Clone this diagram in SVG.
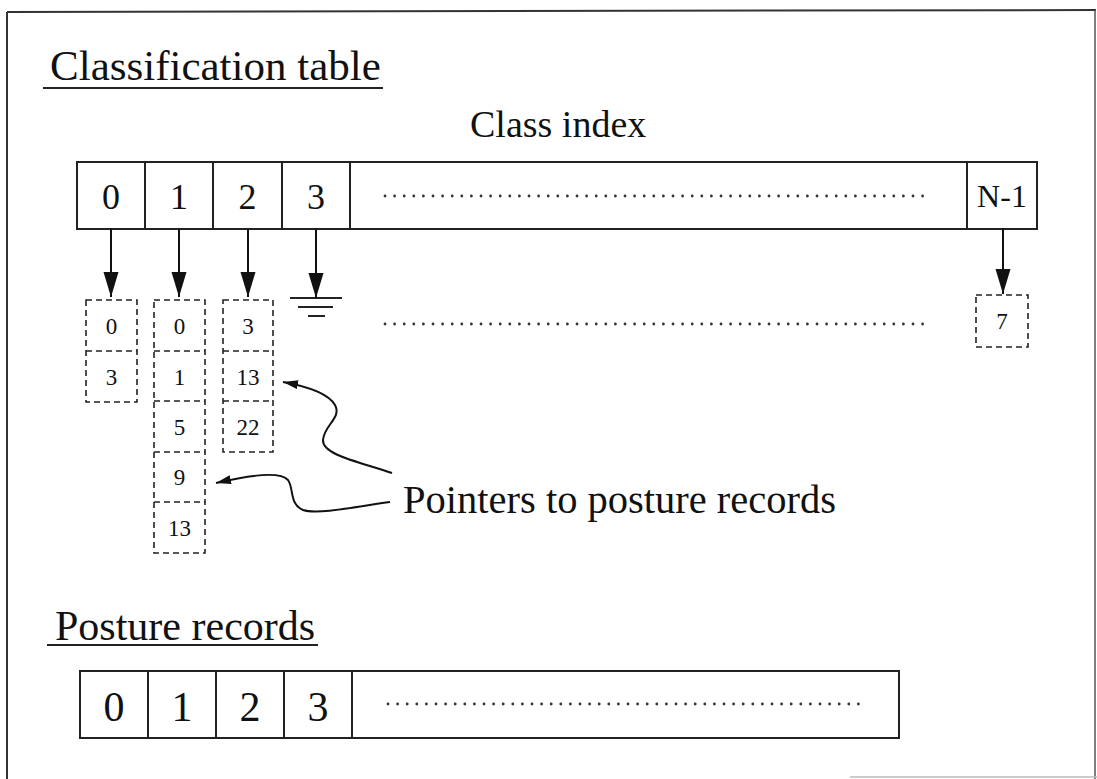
<svg xmlns="http://www.w3.org/2000/svg" width="1097" height="779" viewBox="0 0 1097 779" font-family="'Liberation Serif', 'Times New Roman', serif">
  <style>
    text { font-family: "Liberation Serif", "Times New Roman", serif; fill: #111; }
    .title { font-size: 43px; }
    .label { font-size: 40.5px; }
    .cell { font-size: 36px; text-anchor: middle; }
    .pcell { font-size: 42px; text-anchor: middle; }
    .small { font-size: 23px; text-anchor: middle; }
    .box { fill: none; stroke: #222; stroke-width: 2; }
    .solid { stroke: #222; stroke-width: 2; fill: none; }
    .dash { fill: none; stroke: #222; stroke-width: 1.6; stroke-dasharray: 6 4; }
    .dots { stroke: #333; stroke-width: 2.8; stroke-linecap: round; stroke-dasharray: 0 9.6; fill: none; }
    .conn { stroke: #111; stroke-width: 2; fill: none; }
  </style>
  <defs>
    <marker id="bigHead" markerUnits="userSpaceOnUse" markerWidth="26" markerHeight="16" refX="25" refY="7.5" orient="auto">
      <path d="M0,0 L25,7.5 L0,15 z" fill="#111"/>
    </marker>
    <marker id="smallHead" markerUnits="userSpaceOnUse" markerWidth="16" markerHeight="10" refX="15" refY="4.5" orient="auto">
      <path d="M0,0 L15,4.5 L0,9 z" fill="#111"/>
    </marker>
  </defs>

  <rect width="1097" height="779" fill="#fff"/>

  <!-- page frame -->
  <g id="frame">
    <line x1="7" y1="12" x2="1096" y2="10" stroke="#333" stroke-width="2"/>
    <line x1="7" y1="12" x2="7" y2="779" stroke="#333" stroke-width="2"/>
    <line x1="1095" y1="10" x2="1095" y2="779" stroke="#555" stroke-width="1.5"/>
    <line x1="850" y1="777" x2="1097" y2="777" stroke="#bbb" stroke-width="1.5"/>
  </g>

  <!-- section headings -->
  <g id="heading-classification">
    <text class="title" x="50" y="80">Classification table</text>
    <line class="solid" x1="43" y1="88" x2="383" y2="88"/>
  </g>
  <g id="heading-posture">
    <text class="title" x="55" y="640" style="font-size:42px">Posture records</text>
    <line class="solid" x1="47" y1="645" x2="318" y2="645"/>
  </g>
  <g id="label-class-index">
    <text x="470" y="137" style="font-size:38px">Class index</text>
  </g>

  <!-- class index array -->
  <g id="class-index-table">
    <rect class="box" x="77" y="162" width="960" height="67"/>
    <line class="solid" x1="145" y1="162" x2="145" y2="229"/>
    <line class="solid" x1="213" y1="162" x2="213" y2="229"/>
    <line class="solid" x1="282" y1="162" x2="282" y2="229"/>
    <line class="solid" x1="350" y1="162" x2="350" y2="229"/>
    <line class="solid" x1="967" y1="162" x2="967" y2="229"/>
    <text class="cell" x="111" y="209">0</text>
    <text class="cell" x="179" y="209">1</text>
    <text class="cell" x="247.5" y="209">2</text>
    <text class="cell" x="316" y="209">3</text>
    <text class="cell" x="1002" y="207" style="font-size:32px">N-1</text>
    <line class="dots" x1="385" y1="196" x2="930" y2="196"/>
  </g>

  <!-- bucket lists -->
  <g id="bucket-0">
    <rect class="dash" x="86" y="300" width="51" height="102"/>
    <line class="dash" x1="86" y1="351" x2="137" y2="351"/>
    <text class="small" x="111.5" y="334">0</text>
    <text class="small" x="111.5" y="385">3</text>
  </g>
  <g id="bucket-1">
    <rect class="dash" x="154" y="300" width="51" height="253"/>
    <line class="dash" x1="154" y1="351" x2="205" y2="351"/>
    <line class="dash" x1="154" y1="401" x2="205" y2="401"/>
    <line class="dash" x1="154" y1="452" x2="205" y2="452"/>
    <line class="dash" x1="154" y1="502" x2="205" y2="502"/>
    <text class="small" x="179.5" y="334">0</text>
    <text class="small" x="179.5" y="385">1</text>
    <text class="small" x="179.5" y="435">5</text>
    <text class="small" x="179.5" y="485">9</text>
    <text class="small" x="179.5" y="536">13</text>
  </g>
  <g id="bucket-2">
    <rect class="dash" x="223" y="300" width="50" height="152"/>
    <line class="dash" x1="223" y1="351" x2="273" y2="351"/>
    <line class="dash" x1="223" y1="401" x2="273" y2="401"/>
    <text class="small" x="248" y="334">3</text>
    <text class="small" x="248" y="385">13</text>
    <text class="small" x="248" y="435">22</text>
  </g>
  <g id="bucket-3-null">
    <line class="solid" x1="290" y1="298" x2="342" y2="298"/>
    <line class="solid" x1="298" y1="307" x2="333" y2="307"/>
    <line class="solid" x1="308" y1="316" x2="325" y2="316"/>
  </g>
  <g id="bucket-ellipsis">
    <line class="dots" x1="385" y1="324" x2="930" y2="324"/>
  </g>
  <g id="bucket-last">
    <rect class="dash" x="976" y="295" width="52" height="52"/>
    <text class="small" x="1002" y="329">7</text>
  </g>

  <g id="label-pointers">
    <text class="label" x="403" y="513">Pointers to posture records</text>
  </g>

  <!-- posture record array -->
  <g id="posture-table">
    <rect class="box" x="80" y="671" width="819" height="67"/>
    <line class="solid" x1="148" y1="671" x2="148" y2="738"/>
    <line class="solid" x1="216" y1="671" x2="216" y2="738"/>
    <line class="solid" x1="284" y1="671" x2="284" y2="738"/>
    <line class="solid" x1="352" y1="671" x2="352" y2="738"/>
    <text class="pcell" x="114" y="721">0</text>
    <text class="pcell" x="182" y="721">1</text>
    <text class="pcell" x="250" y="721">2</text>
    <text class="pcell" x="318" y="721">3</text>
    <line class="dots" x1="388" y1="704" x2="865" y2="704"/>
  </g>

  <!-- connectors -->
  <g id="connectors">
    <line class="conn" x1="111" y1="229" x2="111" y2="297" marker-end="url(#bigHead)"/>
    <line class="conn" x1="179" y1="229" x2="179" y2="297" marker-end="url(#bigHead)"/>
    <line class="conn" x1="248" y1="229" x2="248" y2="297" marker-end="url(#bigHead)"/>
    <line class="conn" x1="316" y1="229" x2="316" y2="298" marker-end="url(#bigHead)"/>
    <line class="conn" x1="1003" y1="228" x2="1003" y2="294" marker-end="url(#bigHead)"/>
    <path class="conn" d="M392,473 C360,462 322,455 323,440 C324,425 342,418 335,405 C328,393 305,386 283,382" marker-end="url(#smallHead)"/>
    <path class="conn" d="M390,502 C360,506 318,515 303,510 C289,504 294,488 288,480 C280,471 250,475 216,483" marker-end="url(#smallHead)"/>
  </g>
</svg>
